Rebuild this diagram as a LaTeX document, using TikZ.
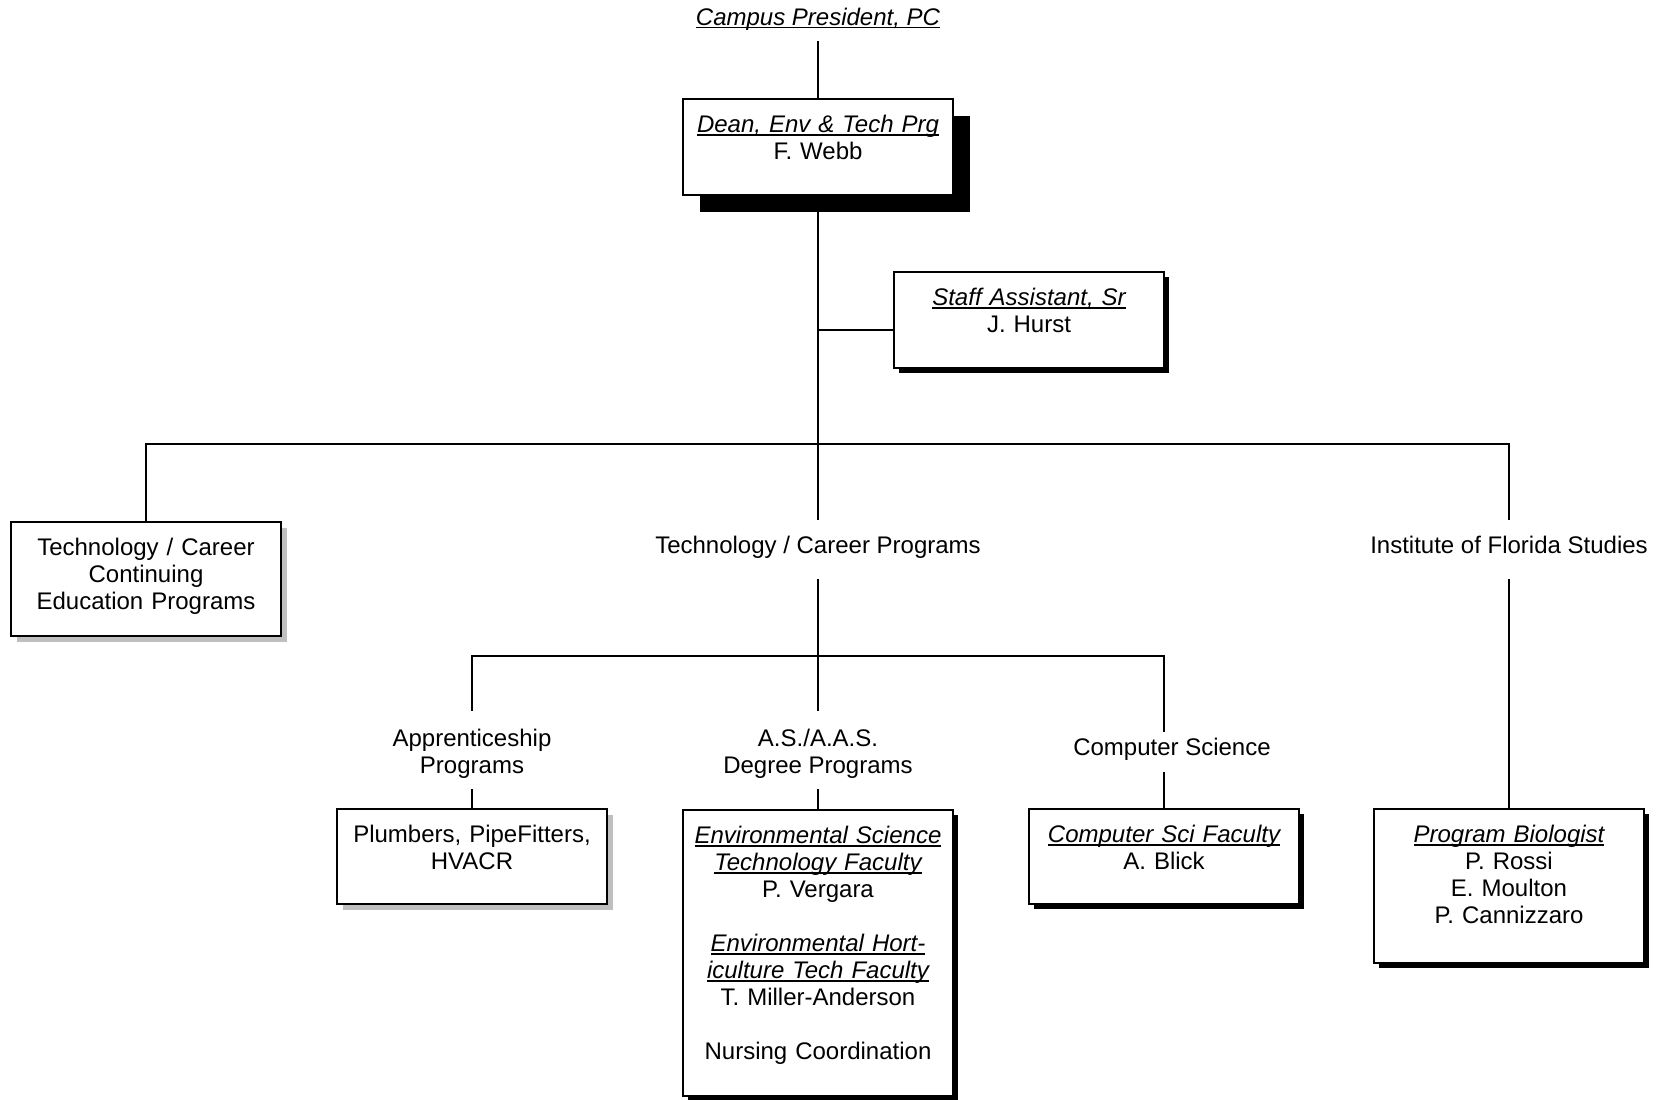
\documentclass[tikz,border=0pt]{standalone}
\usepackage{fontspec}
\setmainfont{Liberation Sans}
\usetikzlibrary{shadows}

% italic title with a rule just under the baseline
\newcommand{\ttl}[1]{\leavevmode\setbox0=\hbox{\itshape #1}\rlap{\rule[-1.7pt]{\wd0}{0.8pt}}\box0}

\tikzset{
    orgbox/.style={draw, fill=white, line width=0.9pt, text width=127pt, align=center,
        inner xsep=4pt, inner ysep=0pt, text height=16.75pt, anchor=north},
    blackshade/.style={drop shadow={shadow xshift=2.5pt, shadow yshift=-2.5pt, fill=black, opacity=1}},
    greyshade/.style={drop shadow={shadow xshift=3pt, shadow yshift=-3pt, fill=black!25, opacity=1}},
    tag/.style={align=center, inner sep=0pt, anchor=base},
    link/.style={line width=1pt}
}

\begin{document}
\begin{tikzpicture}[x=0.5pt, y=-0.5pt, font=\fontsize{12}{13.5}\selectfont]
    \useasboundingbox (0,0) rectangle (1660,1099);

    % head of the chart
    \node[tag, text height=9pt, text depth=8pt] (pc) at (818,25) {\ttl{Campus President, PC}};
    \node[orgbox, text depth=31.25pt,
        drop shadow={shadow xshift=8.5pt, shadow yshift=-8.5pt, fill=black, opacity=1}]
        (dean) at (818,98) {\ttl{Dean, Env \& Tech Prg}\\F. Webb};
    \node[orgbox, blackshade, text depth=31.25pt] (staff) at (1029,271)
        {\ttl{Staff Assistant, Sr}\\J. Hurst};

    % second level
    \node[orgbox, greyshade, text depth=40.25pt] (cont) at (146,521)
        {Technology / Career\\Continuing\\Education Programs};
    \node[tag, text height=16.5pt, text depth=13pt] (tcp) at (818,553) {Technology / Career Programs};
    \node[tag, text height=16.5pt, text depth=13pt] (ifs) at (1509,553) {Institute of Florida Studies};

    % program groups (base is the last line here)
    \node[tag, text height=31pt, text depth=8pt] (appr) at (472,773) {Apprenticeship\\Programs};
    \node[tag, text height=31pt, text depth=8pt] (aas) at (818,773) {A.S./A.A.S.\\Degree Programs};
    \node[tag, text height=11.5pt, text depth=8.5pt] (cs) at (1172,755) {Computer Science};

    % faculty boxes
    \node[orgbox, greyshade, text depth=30.75pt] (plumb) at (472,808)
        {Plumbers, PipeFitters,\\HVACR};
    \node[orgbox, blackshade, text depth=126.25pt] (env) at (818,809)
        {\ttl{Environmental Science}\\\ttl{Technology Faculty}\\P. Vergara\\[13.5pt]
         \ttl{Environmental Hort-}\\\ttl{iculture Tech Faculty}\\T. Miller-Anderson\\[13.5pt]
         Nursing Coordination};
    \node[orgbox, blackshade, text depth=30.75pt] (csf) at (1164,808)
        {\ttl{Computer Sci Faculty}\\A. Blick};
    \node[orgbox, blackshade, text depth=60.25pt] (bio) at (1509,808)
        {\ttl{Program Biologist}\\P. Rossi\\E. Moulton\\P. Cannizzaro};

    \coordinate (bus1) at (818,444);
    \coordinate (bus2) at (818,656);

    % connectors
    \draw[link] (pc.south) -- (dean.north);
    \draw[link] (dean.south) -- (tcp.north);
    \draw[link] ([yshift=-5pt]staff.west) -- ([yshift=-5pt]staff.west -| dean.south);
    \draw[link] (cont.north) |- (bus1) -| (ifs.north);
    \draw[link] (ifs.south) -- (bio.north);
    \draw[link] (tcp.south) -- (aas.north);
    \draw[link] (appr.north) |- (bus2) -| (cs.north -| csf.north);
    \draw[link] (appr.south) -- (plumb.north);
    \draw[link] (aas.south) -- (env.north);
    \draw[link] (cs.south -| csf.north) -- (csf.north);
\end{tikzpicture}
\end{document}
